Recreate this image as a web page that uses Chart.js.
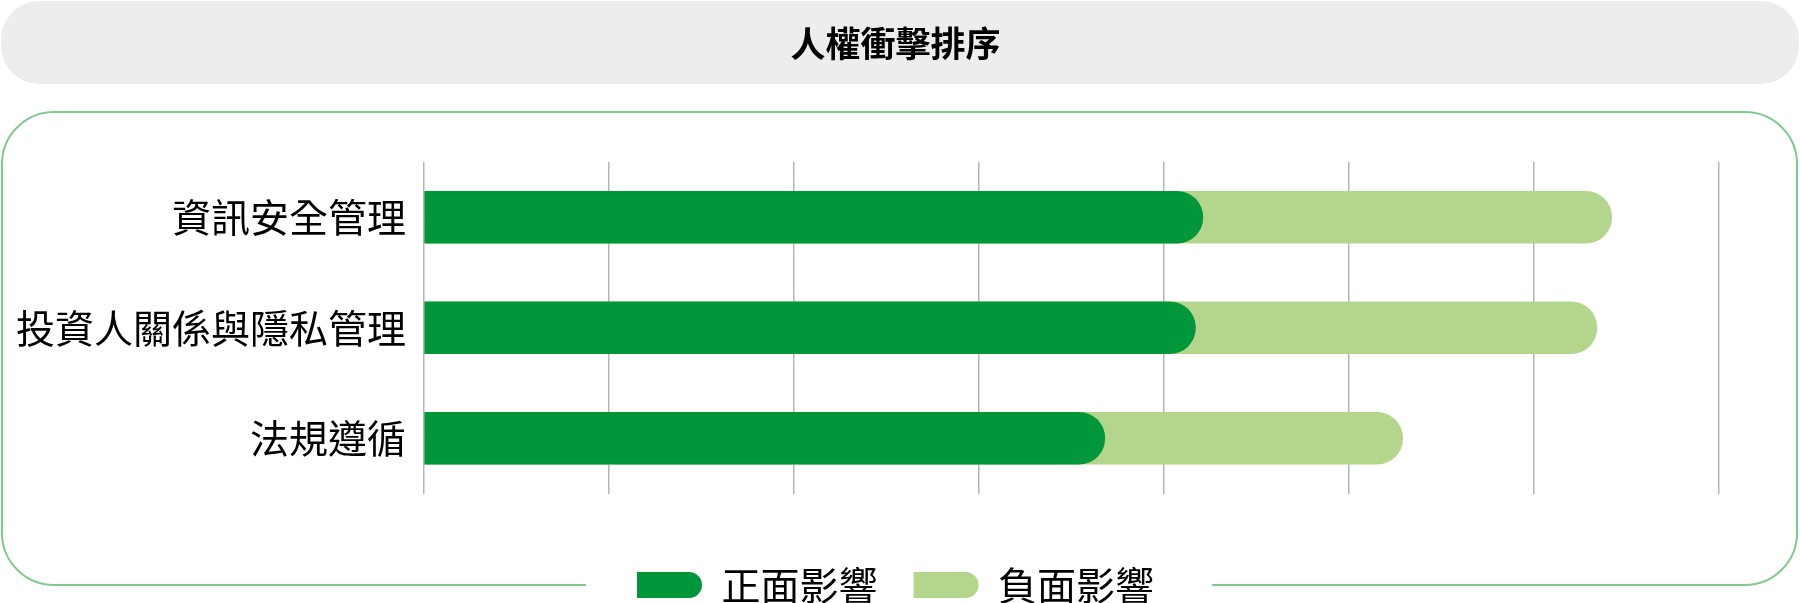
<!DOCTYPE html>
<html lang="zh-Hant">
<head>
<meta charset="utf-8">
<title>人權衝擊排序</title>
<script src="https://cdn.jsdelivr.net/npm/chart.js@4.4.1/dist/chart.umd.min.js"></script>
<style>
  html, body { margin: 0; padding: 0; background: #ffffff; }
  #wrap { width: 1800px; height: 603px; }
</style>
</head>
<body>
<div id="wrap"><canvas id="impactChart" width="1800" height="603"></canvas></div>
<script>
  // data
  const categories = ["資訊安全管理", "投資人關係與隱私管理", "法規遵循"];
  const positiveImpact = [4.21, 4.17, 3.68];
  const negativeImpact = [2.21, 2.17, 1.61];
  const seriesNames = ["正面影響", "負面影響"];
  const chartTitle = "人權衝擊排序";

  const GREEN = "#00963a";
  const LIGHT = "#b4d58c";

  // light bar sits behind the green one and runs to the combined end
  const combined = positiveImpact.map((v, i) => v + negativeImpact[i]);

  function roundRectPath(ctx, x, y, w, h, r) {
    ctx.beginPath();
    ctx.moveTo(x + r, y);
    ctx.arcTo(x + w, y, x + w, y + h, r);
    ctx.arcTo(x + w, y + h, x, y + h, r);
    ctx.arcTo(x, y + h, x, y, r);
    ctx.arcTo(x, y, x + w, y, r);
    ctx.closePath();
  }

  const framePlugin = {
    id: "frame",
    beforeDraw(chart) {
      const ctx = chart.ctx;
      ctx.save();

      // grey title band
      ctx.fillStyle = "#ededed";
      roundRectPath(ctx, 1, 1, 1798, 83, 38);
      ctx.fill();

      // green outline, open where the legend sits
      const boxes = chart.legend.legendHitBoxes;
      const gapL = boxes[0].left - 51;
      const last = boxes[boxes.length - 1];
      const gapR = last.left + last.width + 58;
      const x0 = 2, y0 = 112, x1 = 1797, y1 = 585, r = 52;
      ctx.strokeStyle = "#82c990";
      ctx.lineWidth = 2;
      ctx.beginPath();
      ctx.moveTo(gapR, y1);
      ctx.lineTo(x1 - r, y1);
      ctx.arcTo(x1, y1, x1, y1 - r, r);
      ctx.lineTo(x1, y0 + r);
      ctx.arcTo(x1, y0, x1 - r, y0, r);
      ctx.lineTo(x0 + r, y0);
      ctx.arcTo(x0, y0, x0, y0 + r, r);
      ctx.lineTo(x0, y1 - r);
      ctx.arcTo(x0, y1, x0 + r, y1, r);
      ctx.lineTo(gapL, y1);
      ctx.stroke();

      ctx.restore();
    },
  };

  Chart.defaults.font.family = "'Noto Sans CJK TC', 'Noto Sans', sans-serif";
  Chart.defaults.color = "#000000";

  const ctx = document.getElementById("impactChart").getContext("2d");
  new Chart(ctx, {
    type: "bar",
    data: {
      labels: categories,
      datasets: [
        {
          label: seriesNames[0],
          data: positiveImpact,
          backgroundColor: GREEN,
          borderWidth: 0,
          borderRadius: 26,
          barThickness: 52,
          grouped: false,
        },
        {
          label: seriesNames[1],
          data: combined,
          backgroundColor: LIGHT,
          borderWidth: 0,
          borderRadius: 26,
          barThickness: 52,
          grouped: false,
        },
      ],
    },
    options: {
      indexAxis: "y",
      responsive: false,
      animation: false,
      layout: { padding: { top: 0, left: 0, right: 9, bottom: -11.5 } },
      plugins: {
        title: {
          display: true,
          text: chartTitle,
          font: { size: 35, weight: "bold", lineHeight: 1.2 },
          color: "#000000",
          padding: { top: 23, bottom: 97 },
        },
        legend: {
          position: "bottom",
          labels: {
            boxWidth: 65,
            boxHeight: 26,
            padding: 36,
            font: { size: 39 },
            color: "#000000",
            useBorderRadius: true,
            borderRadius: { topLeft: 0, bottomLeft: 0, topRight: 13, bottomRight: 13 },
          },
        },
        tooltip: { enabled: false },
      },
      scales: {
        x: {
          min: 0,
          max: 7,
          ticks: { display: false, stepSize: 1 },
          grid: { color: "#b5b5b5", lineWidth: 1.5, drawTicks: false },
          border: { display: false },
          afterFit: (scale) => { scale.height = 36; },
        },
        y: {
          ticks: { font: { size: 39 }, color: "#000000", padding: 18 },
          grid: { display: false, drawTicks: false },
          border: { display: false },
          afterFit: (scale) => { scale.width = 424; },
        },
        yRight: {
          position: "right",
          ticks: { display: false },
          grid: { display: false, drawTicks: false },
          border: { display: false },
          afterFit: (scale) => { scale.width = 72; },
        },
      },
    },
    plugins: [framePlugin],
  });
</script>
</body>
</html>
